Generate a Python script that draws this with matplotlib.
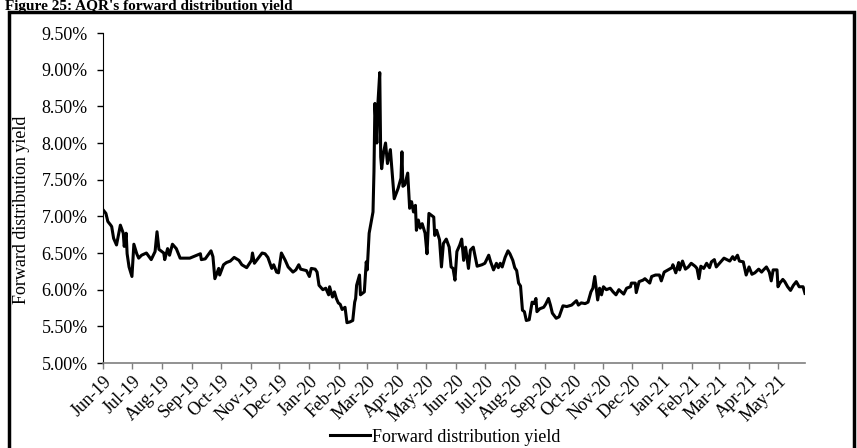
import numpy as np
import pandas as pd
import matplotlib
matplotlib.use("Agg")
import matplotlib.pyplot as plt
import matplotlib.dates as mdates
from matplotlib.ticker import FuncFormatter
from matplotlib.patches import Rectangle

plt.rcParams['font.family'] = ['Liberation Serif', 'DejaVu Serif']

# days after 2019-06-01
days = [0, 3, 5, 8, 9, 11, 14, 18, 21, 22, 24, 25, 27, 30, 32, 35, 37, 40, 45, 50,
        54, 56, 58, 63, 64, 67, 69, 72, 76, 80, 90, 101, 102, 106, 112, 114, 116, 120, 121, 125,
        128, 132, 136, 141, 144, 149, 154, 155, 157, 161, 165, 168, 171, 175, 177, 180, 182, 185, 189, 192,
        197, 200, 203, 205, 211, 214, 216, 220, 222, 224, 228, 231, 234, 235, 238, 240, 242, 244, 246, 248,
        251, 253, 256, 259, 261, 262, 263, 266, 267, 271, 273, 274, 276, 280, 281, 282, 284, 285, 287, 288,
        289, 291, 293, 295, 298, 299, 302, 306, 309, 310, 311, 313, 316, 318, 320, 322, 324, 325, 327, 329,
        331, 334, 336, 338, 343, 344, 346, 349, 351, 353, 356, 359, 361, 363, 365, 367, 370, 372, 374, 376,
        379, 381, 384, 388, 393, 396, 400, 402, 405, 408, 410, 412, 414, 417, 420, 422, 425, 427, 429, 431,
        433, 435, 437, 439, 442, 445, 447, 449, 450, 453, 457, 459, 462, 464, 466, 470, 473, 477, 481, 486,
        491, 493, 496, 500, 503, 506, 508, 510, 513, 515, 517, 519, 522, 526, 529, 532, 535, 540, 543, 547,
        548, 552, 553, 556, 560, 562, 567, 569, 573, 577, 579, 582, 586, 590, 591, 594, 597, 598, 601, 604,
        607, 610, 614, 616, 618, 620, 623, 626, 629, 631, 634, 636, 640, 644, 647, 650, 653, 655, 658, 660,
        664, 667, 670, 673, 676, 680, 683, 685, 688, 691, 693, 695, 699, 700, 702, 705, 707, 710, 713, 716,
        719, 722, 726, 728]

yield_pct = [7.09, 7.04, 6.93, 6.88, 6.86, 6.70, 6.61, 6.88, 6.77, 6.59, 6.77, 6.49, 6.31, 6.18, 6.62, 6.49, 6.43, 6.47, 6.50, 6.41,
             6.52, 6.79, 6.55, 6.50, 6.41, 6.56, 6.47, 6.62, 6.56, 6.43, 6.43, 6.49, 6.41, 6.42, 6.53, 6.45, 6.15, 6.29, 6.20, 6.34,
             6.37, 6.39, 6.44, 6.40, 6.34, 6.30, 6.40, 6.50, 6.36, 6.43, 6.50, 6.49, 6.44, 6.29, 6.34, 6.24, 6.23, 6.50, 6.40, 6.31,
             6.24, 6.27, 6.34, 6.28, 6.26, 6.18, 6.29, 6.28, 6.24, 6.06, 6.00, 6.02, 5.93, 6.04, 5.90, 5.97, 5.88, 5.82, 5.80, 5.73,
             5.76, 5.55, 5.56, 5.58, 5.83, 5.88, 6.06, 6.20, 5.93, 5.97, 6.38, 6.27, 6.77, 7.06, 7.61, 8.54, 8.00, 8.52, 8.96, 7.81,
             7.65, 7.88, 8.00, 7.72, 7.91, 7.74, 7.24, 7.38, 7.52, 7.88, 7.41, 7.43, 7.59, 7.11, 7.20, 7.06, 7.15, 6.81, 6.95, 6.84,
             6.90, 6.77, 6.49, 7.04, 6.99, 6.74, 6.81, 6.68, 6.31, 6.63, 6.69, 6.58, 6.31, 6.29, 6.13, 6.52, 6.61, 6.69, 6.40, 6.58,
             6.29, 6.54, 6.58, 6.32, 6.34, 6.36, 6.47, 6.38, 6.27, 6.36, 6.30, 6.36, 6.31, 6.44, 6.53, 6.49, 6.40, 6.30, 6.26, 6.09,
             6.05, 5.72, 5.70, 5.58, 5.59, 5.83, 5.81, 5.88, 5.70, 5.74, 5.76, 5.80, 5.88, 5.79, 5.68, 5.61, 5.63, 5.78, 5.77, 5.79,
             5.85, 5.79, 5.82, 5.81, 5.83, 5.97, 6.02, 6.18, 5.86, 6.02, 5.93, 6.04, 6.00, 6.02, 5.97, 5.93, 6.00, 5.94, 6.02, 6.04,
             6.09, 6.09, 5.96, 6.11, 6.13, 6.15, 6.09, 6.18, 6.20, 6.20, 6.12, 6.24, 6.27, 6.30, 6.34, 6.23, 6.37, 6.27, 6.39, 6.28,
             6.31, 6.36, 6.32, 6.29, 6.15, 6.32, 6.29, 6.36, 6.30, 6.38, 6.41, 6.31, 6.37, 6.43, 6.41, 6.39, 6.45, 6.41, 6.47, 6.39,
             6.38, 6.20, 6.31, 6.21, 6.23, 6.28, 6.24, 6.27, 6.31, 6.24, 6.12, 6.27, 6.27, 6.04, 6.09, 6.14, 6.11, 6.04, 5.99, 6.06,
             6.11, 6.04, 6.04, 5.95]

dates = pd.Timestamp('2019-06-01') + pd.to_timedelta(days, unit='D')
month_ticks = pd.date_range('2019-06-01', '2021-05-01', freq='MS')
yticks = np.arange(5.0, 9.51, 0.5)

fig = plt.figure(figsize=(8.57, 4.48), dpi=100)
ax = fig.add_axes([0.1202, 0.1897, 0.8191, 0.7366])

ax.plot(dates, yield_pct, color='black', lw=2.2, label='Forward distribution yield')

ax.set_ylim(5.0, 9.5)
ax.set_yticks(yticks)
ax.yaxis.set_major_formatter(FuncFormatter(lambda v, p: '%.2f%%' % v))
ax.set_xlim(pd.Timestamp('2019-06-01'), pd.Timestamp('2021-05-29'))
ax.set_xticks(month_ticks)
ax.xaxis.set_major_formatter(mdates.DateFormatter('%b-%y'))
for lab in ax.get_xticklabels():
    lab.set_rotation(45)
    lab.set_ha('right')
    lab.set_rotation_mode('anchor')

ax.tick_params(axis='y', labelsize=13, length=4, width=1, pad=7, color='black')
ax.tick_params(axis='x', labelsize=13, length=4, width=1, pad=3, color='#7f7f7f')
ax.spines['top'].set_visible(False)
ax.spines['right'].set_visible(False)
ax.spines['left'].set_color('black')
ax.spines['bottom'].set_color('#7f7f7f')
ax.spines['bottom'].set_linewidth(1.2)
ax.set_ylabel('Forward distribution yield', fontsize=13)
ax.yaxis.set_label_coords(-0.104, 0.465)

fig.legend(loc='center', bbox_to_anchor=(445 / 857, 1 - 437 / 448), frameon=False,
           fontsize=13, handlelength=2.2, handletextpad=0.1, borderpad=0)

# outer frame and figure caption
fig.patches.append(Rectangle((8.5 / 857, -0.05), 845 / 857, 1.05 - 12 / 448,
                             transform=fig.transFigure, fill=False, lw=2.5, ec='black'))
fig.text(5 / 857, 1.0, "Figure 25: AQR's forward distribution yield",
         fontsize=11, fontweight='bold', va='top', ha='left')

plt.savefig('out.png', dpi=100)
